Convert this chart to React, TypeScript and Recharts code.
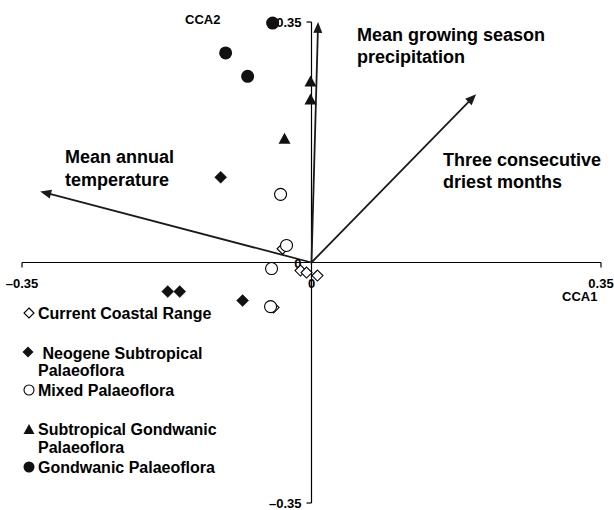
import React from 'react';
import {
  ScatterChart,
  Scatter,
  XAxis,
  YAxis,
  ReferenceLine,
  ReferenceDot,
  Customized,
} from 'recharts';

// ---- data (CCA scores) ----
const currentCoastal = [
  { x: -0.035, y: 0.02 },
  { x: -0.0133, y: -0.0117 },
  { x: -0.006, y: -0.0146 },
  { x: 0.0072, y: -0.019 },
  { x: -0.0459, y: -0.0656 },
];
const neogeneSubtropical = [
  { x: -0.1098, y: 0.124 },
  { x: -0.1738, y: -0.0423 },
  { x: -0.1593, y: -0.0423 },
  { x: -0.0833, y: -0.0554 },
];
const mixedPalaeoflora = [
  { x: -0.0374, y: 0.0992 },
  { x: -0.0302, y: 0.0248 },
  { x: -0.0483, y: -0.0088 },
  { x: -0.0495, y: -0.0642 },
];
const subtropicalGondwanic = [
  { x: -0.0012, y: 0.264 },
  { x: -0.0012, y: 0.238 },
  { x: -0.0326, y: 0.181 },
];
const gondwanicPalaeoflora = [
  { x: -0.047, y: 0.3485 },
  { x: -0.1038, y: 0.305 },
  { x: -0.0772, y: 0.271 },
];

// environmental vectors
const vectorNames = [
  ['Mean annual', 'temperature'],
  ['Mean growing season', 'precipitation'],
  ['Three consecutive', 'driest months'],
];
const vectorX = [-0.328, 0.008, 0.199];
const vectorY = [0.1035, 0.35, 0.245];

// ticks
const axisMin = -0.35;
const axisMax = 0.35;
const xTickValues = [-0.35, 0, 0.35];
const xTickLabels = ['\u20130.35', '0', '0.35'];
const yTickValues = [0.35, 0, -0.35];
const yTickLabels = ['0.35', '0', '\u20130.35'];

const legendLabels = [
  ['Current Coastal Range'],
  [' Neogene Subtropical', 'Palaeoflora'],
  ['Mixed Palaeoflora'],
  ['Subtropical Gondwanic', 'Palaeoflora'],
  ['Gondwanic Palaeoflora'],
];

const FONT = '"Liberation Sans", Arial, Helvetica, sans-serif';

// ---- marker shapes ----
const diamondPts = (cx: number, cy: number, r: number) =>
  `${cx},${cy - r} ${cx + r},${cy} ${cx},${cy + r} ${cx - r},${cy}`;
const trianglePts = (cx: number, cy: number, w: number, h: number) =>
  `${cx},${cy - h / 2} ${cx + w / 2},${cy + h / 2} ${cx - w / 2},${cy + h / 2}`;

const OpenDiamond = (p: any) => (
  <polygon points={diamondPts(p.cx, p.cy, 5.5)} fill="#fff" stroke="#000" strokeWidth={1.1} />
);
const FilledDiamond = (p: any) => (
  <polygon points={diamondPts(p.cx, p.cy, 6)} fill="#111" stroke="#111" strokeWidth={0.5} />
);
const OpenCircle = (p: any) => (
  <circle cx={p.cx} cy={p.cy} r={6} fill="#fff" stroke="#000" strokeWidth={1.1} />
);
const FilledTriangle = (p: any) => (
  <polygon points={trianglePts(p.cx, p.cy, 12, 11)} fill="#111" />
);
const FilledCircle = (p: any) => <circle cx={p.cx} cy={p.cy} r={6.5} fill="#111" />;

// ---- reference shapes ----
const Arrow = (p: any) => {
  const { x1, y1, x2, y2 } = p;
  const dx = x2 - x1;
  const dy = y2 - y1;
  const len = Math.sqrt(dx * dx + dy * dy) || 1;
  const ux = dx / len;
  const uy = dy / len;
  const L = 11;
  const W = 4.5;
  const bx = x2 - ux * L;
  const by = y2 - uy * L;
  const pts = `${x2},${y2} ${bx - uy * W},${by + ux * W} ${bx + uy * W},${by - ux * W}`;
  return (
    <g>
      <line x1={x1} y1={y1} x2={bx + ux * 2} y2={by + uy * 2} stroke="#1a1a1a" strokeWidth={1.8} />
      <polygon points={pts} fill="#1a1a1a" />
    </g>
  );
};

const HorizontalAxisLine = (p: any) => {
  const { x1, y1, x2, y2 } = p;
  return (
    <g stroke="#000" strokeWidth={1.2}>
      <line x1={x1} y1={y1} x2={x2} y2={y2} />
      <line x1={x1} y1={y1} x2={x1} y2={y1 + 5} />
      <line x1={x2} y1={y2} x2={x2} y2={y2 + 5} />
    </g>
  );
};

const VerticalAxisLine = (p: any) => {
  const { x1, y1, x2, y2 } = p;
  return (
    <g stroke="#000" strokeWidth={1.2}>
      <line x1={x1} y1={y1} x2={x2} y2={y2} />
      <line x1={x1} y1={y1} x2={x1 - 5} y2={y1} />
      <line x1={x2} y1={y2} x2={x2 - 5} y2={y2} />
    </g>
  );
};

const makeXTickLabel = (label: string) => (p: any) => (
  <text
    x={p.cx}
    y={p.cy + 25}
    textAnchor="middle"
    fontFamily={FONT}
    fontWeight="bold"
    fontSize={13}
    fill="#000"
  >
    {label}
  </text>
);

const makeYTickLabel = (label: string) => (p: any) => (
  <text
    x={p.cx - 10}
    y={p.cy + 5}
    textAnchor="end"
    fontFamily={FONT}
    fontWeight="bold"
    fontSize={13}
    fill="#000"
  >
    {label}
  </text>
);

// ---- static overlay: annotations, axis titles, legend ----
const Overlay = () => {
  const textProps = { fontFamily: FONT, fontWeight: 'bold' as const, fill: '#000' };
  const annot = [
    { x: 65, y: [163, 186] },
    { x: 357, y: [41, 63] },
    { x: 443, y: [166, 188] },
  ];
  const legendRows = [
    { sy: 313, ty: [319], tx: 38 },
    { sy: 352, ty: [359, 376], tx: 38 },
    { sy: 390, ty: [396], tx: 38 },
    { sy: 429, ty: [435, 453], tx: 38 },
    { sy: 467, ty: [473], tx: 38 },
  ];
  const sx = 29;
  const symbols = [
    <polygon key="s0" points={diamondPts(sx, legendRows[0].sy, 5)} fill="#fff" stroke="#000" strokeWidth={1.1} />,
    <polygon key="s1" points={diamondPts(sx - 1, legendRows[1].sy, 5.5)} fill="#111" />,
    <circle key="s2" cx={sx} cy={legendRows[2].sy} r={5} fill="#fff" stroke="#000" strokeWidth={1.1} />,
    <polygon key="s3" points={trianglePts(sx, legendRows[3].sy, 11, 10)} fill="#111" />,
    <circle key="s4" cx={sx} cy={legendRows[4].sy} r={5.5} fill="#111" />,
  ];
  return (
    <g>
      {vectorNames.map((lines, i) =>
        lines.map((t, j) => (
          <text key={`a${i}${j}`} x={annot[i].x} y={annot[i].y[j]} fontSize={18} {...textProps}>
            {t}
          </text>
        ))
      )}
      <text x={185} y={24} fontSize={13} {...textProps}>
        CCA2
      </text>
      <text x={562} y={301} fontSize={13} {...textProps}>
        CCA1
      </text>
      {symbols}
      {legendLabels.map((lines, i) =>
        lines.map((t, j) => (
          <text
            key={`l${i}${j}`}
            x={legendRows[i].tx}
            y={legendRows[i].ty[j]}
            fontSize={16}
            xmlSpace="preserve"
            style={{ whiteSpace: 'pre' }}
            {...textProps}
          >
            {t}
          </text>
        ))
      )}
    </g>
  );
};

export default function App() {
  return (
    <div style={{ position: 'absolute', left: 0, top: 0, background: '#fff' }}>
      <ScatterChart width={614} height={510} margin={{ top: 22, right: 13, bottom: 7, left: 22 }}>
        <XAxis type="number" dataKey="x" domain={[axisMin, axisMax]} ticks={xTickValues} hide />
        <YAxis type="number" dataKey="y" domain={[axisMin, axisMax]} ticks={yTickValues} hide />
        <ReferenceLine y={0} shape={HorizontalAxisLine} ifOverflow="visible" />
        <ReferenceLine x={0} shape={VerticalAxisLine} ifOverflow="visible" />
        {vectorX.map((vx, i) => (
          <ReferenceLine
            key={`v${i}`}
            segment={[
              { x: 0, y: 0 },
              { x: vx, y: vectorY[i] },
            ]}
            shape={Arrow}
            ifOverflow="visible"
          />
        ))}
        {xTickValues.map((v, i) => (
          <ReferenceDot key={`xt${i}`} x={v} y={0} r={1} shape={makeXTickLabel(xTickLabels[i])} ifOverflow="visible" />
        ))}
        {yTickValues.map((v, i) => (
          <ReferenceDot key={`yt${i}`} x={0} y={v} r={1} shape={makeYTickLabel(yTickLabels[i])} ifOverflow="visible" />
        ))}
        <Scatter name="Current Coastal Range" data={currentCoastal} shape={OpenDiamond} isAnimationActive={false} />
        <Scatter name="Neogene Subtropical Palaeoflora" data={neogeneSubtropical} shape={FilledDiamond} isAnimationActive={false} />
        <Scatter name="Mixed Palaeoflora" data={mixedPalaeoflora} shape={OpenCircle} isAnimationActive={false} />
        <Scatter name="Subtropical Gondwanic Palaeoflora" data={subtropicalGondwanic} shape={FilledTriangle} isAnimationActive={false} />
        <Scatter name="Gondwanic Palaeoflora" data={gondwanicPalaeoflora} shape={FilledCircle} isAnimationActive={false} />
        <Customized component={Overlay} />
      </ScatterChart>
    </div>
  );
}
